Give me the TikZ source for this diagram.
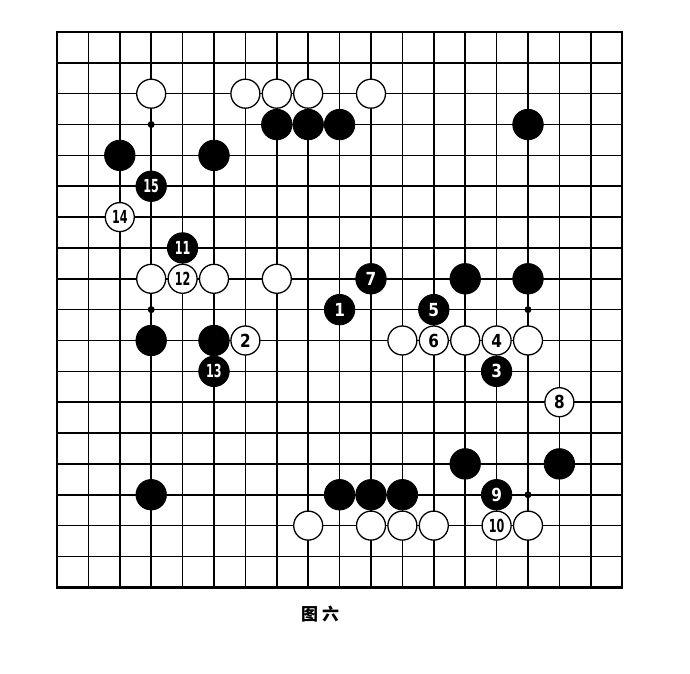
\documentclass[tikz,border=0pt]{standalone}
\usepackage{fontspec}
\newfontfamily\numfont[FakeStretch=0.85]{DejaVu Sans}
\newfontfamily\narrowfont[FakeStretch=0.62]{DejaVu Sans}
\newfontfamily\cjk{Noto Sans CJK SC}
\tikzset{
  blackstone/.style={circle,fill=black,draw=black,line width=0.8pt,minimum size=30.5pt,inner sep=0pt,
    text=white,font=\numfont\bfseries\fontsize{18}{18}\selectfont},
  whitestone/.style={circle,fill=white,draw=black,line width=1.3pt,minimum size=29pt,inner sep=0pt,
    text=black,font=\numfont\bfseries\fontsize{18}{18}\selectfont},
  twodigit/.style={font=\narrowfont\bfseries\fontsize{18}{18}\selectfont},
  gridline/.style={line width=1.5pt},
}
\begin{document}
\begin{tikzpicture}[x=31.4pt,y=-30.85pt]
\useasboundingbox[fill=white] (-1.815,-1.037) rectangle (20.159,20.81);
% board
\foreach \i in {1,...,17} {
  \draw[gridline] (\i,0) -- (\i,18);
  \draw[gridline] (0,\i) -- (18,\i);
}
\draw[line width=2.4pt] (0,0) rectangle (18,18);
% star points
\foreach \c in {3,9,15}
  \foreach \r in {3,9,15}
    \fill (\c,\r) circle (3.5pt);
% black stones
\foreach \c/\r in {7/3,8/3,9/3,15/3,2/4,5/4,13/8,15/8,3/10,5/10,13/14,16/14,3/15,9/15,10/15,11/15}
  \node[blackstone] (b\c-\r) at (\c,\r) {};
% white stones
\foreach \c/\r in {3/2,6/2,7/2,8/2,10/2,3/8,5/8,7/8,11/10,13/10,15/10,8/16,10/16,11/16,12/16,15/16}
  \node[whitestone] (w\c-\r) at (\c,\r) {};
% numbered moves
\node[blackstone] (m1) at (9,9) {1};
\node[whitestone] (m2) at (6,10) {2};
\node[blackstone] (m3) at (14,11) {3};
\node[whitestone] (m4) at (14,10) {4};
\node[blackstone] (m5) at (12,9) {5};
\node[whitestone] (m6) at (12,10) {6};
\node[blackstone] (m7) at (10,8) {7};
\node[whitestone] (m8) at (16,12) {8};
\node[blackstone] (m9) at (14,15) {9};
\node[whitestone,twodigit] (m10) at (14,16) {10};
\node[blackstone,twodigit] (m11) at (4,7) {11};
\node[whitestone,twodigit] (m12) at (4,8) {12};
\node[blackstone,twodigit] (m13) at (5,11) {13};
\node[whitestone,twodigit] (m14) at (2,6) {14};
\node[blackstone,twodigit] (m15) at (3,5) {15};
% caption
\node[font=\cjk\bfseries\fontsize{17}{17}\selectfont] (caption) at (8.38,18.87) {图\hspace{4pt}六};
\end{tikzpicture}
\end{document}
